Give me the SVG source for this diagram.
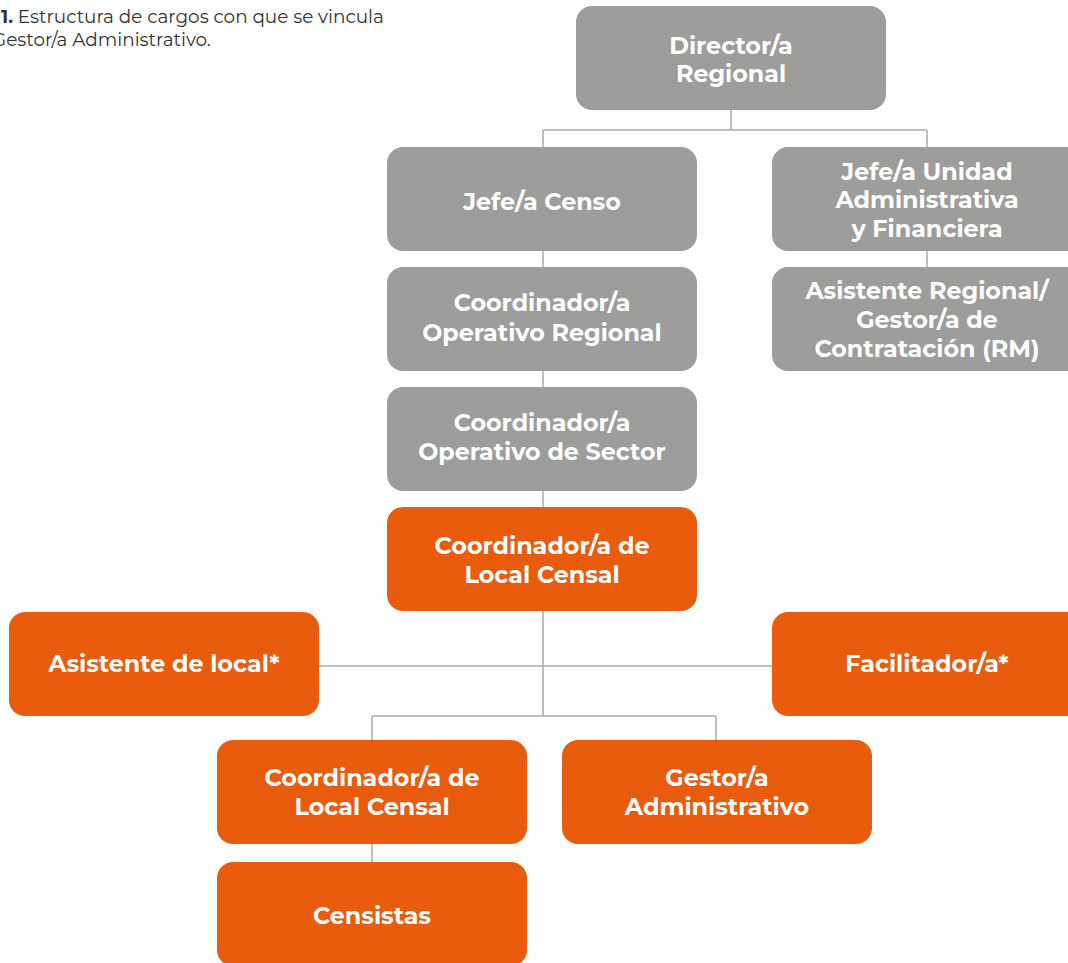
<svg xmlns="http://www.w3.org/2000/svg" width="1068" height="963" viewBox="0 0 1068 963">
<style>
.g{fill:#9d9d9c}
.o{fill:#e95b0d}
.t{font-family:"Montserrat","Open Sans","Liberation Sans",sans-serif;font-weight:700;font-size:23.8px;fill:#fff;text-anchor:middle}
.c{fill:none;stroke:#aaaaaa;stroke-width:1.5}
.cap{font-family:"Montserrat","Open Sans","Liberation Sans",sans-serif;font-size:18.4px;fill:#333}
</style>
<rect width="1068" height="963" fill="#fff"/>
<text class="cap" x="1" y="23"><tspan font-weight="700">1.</tspan> Estructura de cargos con que se vincula</text>
<text class="cap" x="-8" y="46">Gestor/a Administrativo.</text>
<g id="connectors">
<path class="c" d="M731 110V130M543 130H927M543 130V147M927 130V147"/>
<path class="c" d="M543 250V267M543 371V387M543 490V507M927 250V267"/>
<path class="c" d="M543 611V716M319 666H772M372 716H716M372 716V740M716 716V740M372 844V862"/>
</g>
<g id="director"><rect class="g" x="576" y="6" width="310" height="104" rx="16"/><text class="t" x="731" y="54">Director/a</text><text class="t" x="731" y="82">Regional</text></g>
<g id="jefe-censo"><rect class="g" x="387" y="147" width="310" height="104" rx="16"/><text class="t" x="542" y="210">Jefe/a Censo</text></g>
<g id="jefe-unidad"><rect class="g" x="772" y="147" width="310" height="104" rx="16"/><text class="t" x="927" y="180">Jefe/a Unidad</text><text class="t" x="927" y="208">Administrativa</text><text class="t" x="927" y="237">y Financiera</text></g>
<g id="asistente-regional"><rect class="g" x="772" y="267" width="310" height="104" rx="16"/><text class="t" x="927" y="299">Asistente Regional/</text><text class="t" x="927" y="328">Gestor/a de</text><text class="t" x="927" y="357">Contratación (RM)</text></g>
<g id="coord-op-regional"><rect class="g" x="387" y="267" width="310" height="104" rx="16"/><text class="t" x="542" y="311">Coordinador/a</text><text class="t" x="542" y="341">Operativo Regional</text></g>
<g id="coord-op-sector"><rect class="g" x="387" y="387" width="310" height="104" rx="16"/><text class="t" x="542" y="431">Coordinador/a</text><text class="t" x="542" y="460">Operativo de Sector</text></g>
<g id="coord-local-1"><rect class="o" x="387" y="507" width="310" height="104" rx="16"/><text class="t" x="542" y="554">Coordinador/a de</text><text class="t" x="542" y="583">Local Censal</text></g>
<g id="asistente-local"><rect class="o" x="9" y="612" width="310" height="104" rx="16"/><text class="t" x="164" y="672">Asistente de local*</text></g>
<g id="facilitador"><rect class="o" x="772" y="612" width="310" height="104" rx="16"/><text class="t" x="927" y="672">Facilitador/a*</text></g>
<g id="coord-local-2"><rect class="o" x="217" y="740" width="310" height="104" rx="16"/><text class="t" x="372" y="786">Coordinador/a de</text><text class="t" x="372" y="815">Local Censal</text></g>
<g id="gestor"><rect class="o" x="562" y="740" width="310" height="104" rx="16"/><text class="t" x="717" y="786">Gestor/a</text><text class="t" x="717" y="815">Administrativo</text></g>
<g id="censistas"><rect class="o" x="217" y="862" width="310" height="104" rx="16"/><text class="t" x="372" y="924">Censistas</text></g>
</svg>
